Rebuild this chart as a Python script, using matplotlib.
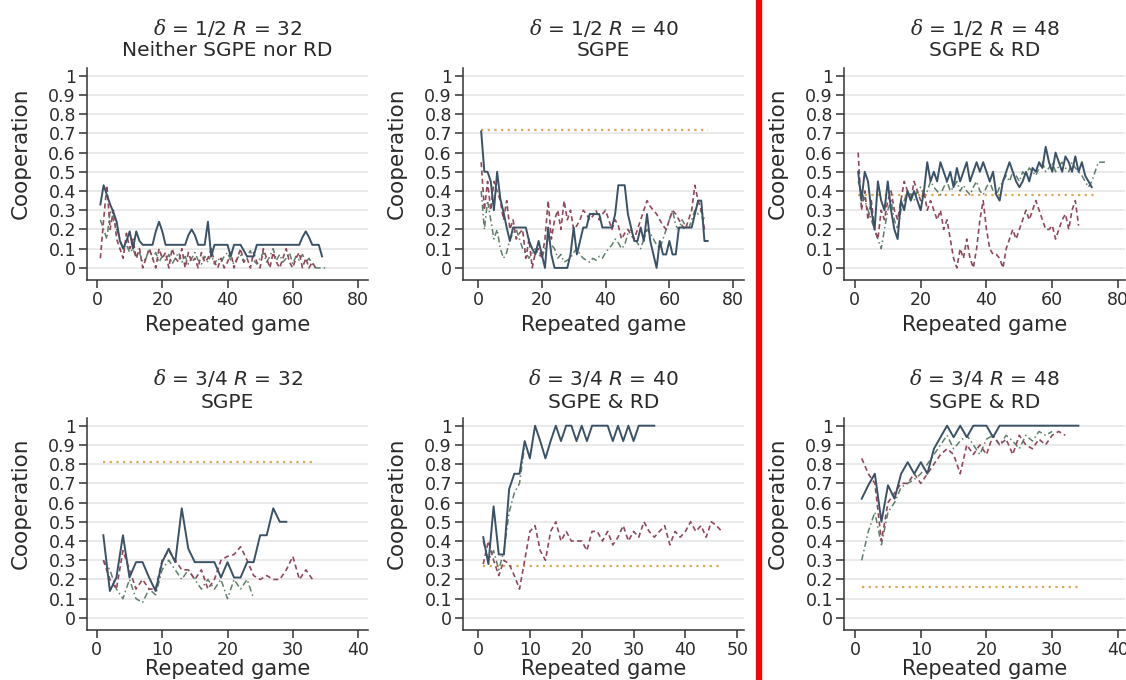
import numpy as np
import matplotlib
matplotlib.use('Agg')
import matplotlib.pyplot as plt
from matplotlib.lines import Line2D

# cooperation rate per repeated game (game 1, 2, 3, ...) for each treatment
# solid / dashed / dash-dot are the three sessions, dotted is the predicted level

# delta = 1/2, R = 32
p1_solid = [0.33, 0.43, 0.38, 0.33, 0.29, 0.24, 0.14, 0.10, 0.14, 0.19,
            0.10, 0.19, 0.14, 0.12, 0.12, 0.12, 0.12, 0.19, 0.24, 0.19,
            0.12, 0.12, 0.12, 0.12, 0.12, 0.12, 0.12, 0.17, 0.20, 0.17,
            0.12, 0.12, 0.12, 0.24, 0.06, 0.12, 0.12, 0.12, 0.12, 0.12,
            0.06, 0.12, 0.12, 0.12, 0.09, 0.06, 0.06, 0.06, 0.12, 0.12,
            0.12, 0.12, 0.12, 0.12, 0.12, 0.12, 0.12, 0.12, 0.12, 0.12,
            0.12, 0.12, 0.16, 0.19, 0.16, 0.12, 0.12, 0.12, 0.06]
p1_dash = [0.05, 0.25, 0.43, 0.20, 0.30, 0.15, 0.10, 0.05, 0.18, 0.10,
           0.15, 0.05, 0.10, 0.00, 0.05, 0.10, 0.05, 0.00, 0.10, 0.05,
           0.08, 0.00, 0.10, 0.05, 0.03, 0.10, 0.00, 0.08, 0.03, 0.05,
           0.00, 0.08, 0.03, 0.05, 0.10, 0.03, 0.00, 0.05, 0.00, 0.03,
           0.08, 0.00, 0.05, 0.10, 0.03, 0.05, 0.00, 0.08, 0.03, 0.00,
           0.10, 0.05, 0.00, 0.08, 0.03, 0.00, 0.05, 0.10, 0.03, 0.00,
           0.05, 0.08, 0.00, 0.05, 0.00, 0.03, 0.00]
p1_dashdot = [0.25, 0.20, 0.15, 0.30, 0.25, 0.20, 0.15, 0.10, 0.12, 0.08,
              0.10, 0.05, 0.08, 0.03, 0.05, 0.10, 0.05, 0.08, 0.03, 0.06,
              0.04, 0.07, 0.02, 0.05, 0.08, 0.03, 0.06, 0.02, 0.05, 0.08,
              0.04, 0.02, 0.06, 0.03, 0.07, 0.02, 0.05, 0.03, 0.06, 0.08,
              0.04, 0.02, 0.05, 0.07, 0.03, 0.06, 0.09, 0.04, 0.02, 0.05,
              0.08, 0.03, 0.06, 0.10, 0.04, 0.07, 0.03, 0.05, 0.08, 0.02,
              0.06, 0.04, 0.07, 0.03, 0.05, 0.02, 0.00, 0.00, 0.00, 0.00]

# delta = 1/2, R = 40
p2_solid = [0.71, 0.50, 0.50, 0.45, 0.30, 0.50, 0.36, 0.29, 0.21, 0.14,
            0.21, 0.21, 0.21, 0.21, 0.21, 0.14, 0.10, 0.07, 0.14, 0.07,
            0.00, 0.21, 0.07, 0.00, 0.00, 0.00, 0.00, 0.00, 0.07, 0.21,
            0.07, 0.14, 0.21, 0.21, 0.28, 0.28, 0.28, 0.28, 0.21, 0.21,
            0.21, 0.21, 0.28, 0.43, 0.43, 0.43, 0.28, 0.21, 0.14, 0.14,
            0.21, 0.14, 0.28, 0.14, 0.07, 0.00, 0.14, 0.07, 0.07, 0.14,
            0.07, 0.07, 0.21, 0.21, 0.21, 0.21, 0.21, 0.28, 0.35, 0.35,
            0.14, 0.14]
p2_dash = [0.55, 0.30, 0.45, 0.30, 0.45, 0.40, 0.35, 0.25, 0.35, 0.20,
           0.25, 0.15, 0.18, 0.20, 0.05, 0.15, 0.00, 0.08, 0.10, 0.05,
           0.15, 0.35, 0.15, 0.25, 0.30, 0.20, 0.35, 0.25, 0.30, 0.20,
           0.22, 0.25, 0.30, 0.28, 0.25, 0.27, 0.30, 0.25, 0.28, 0.30,
           0.25, 0.20, 0.25, 0.22, 0.15, 0.18, 0.20, 0.17, 0.15, 0.20,
           0.25, 0.30, 0.35, 0.32, 0.30, 0.28, 0.25, 0.22, 0.20, 0.25,
           0.30, 0.28, 0.25, 0.22, 0.20, 0.25, 0.30, 0.43, 0.35, 0.30,
           0.20]
p2_dashdot = [0.40, 0.20, 0.35, 0.25, 0.15, 0.20, 0.10, 0.05, 0.08, 0.15,
              0.18, 0.20, 0.15, 0.10, 0.08, 0.05, 0.08, 0.10, 0.07, 0.05,
              0.10, 0.15, 0.12, 0.10, 0.05, 0.07, 0.03, 0.04, 0.05, 0.08,
              0.10, 0.07, 0.05, 0.04, 0.03, 0.05, 0.04, 0.06, 0.05, 0.08,
              0.10, 0.12, 0.15, 0.13, 0.10, 0.12, 0.18, 0.20, 0.15, 0.13,
              0.10, 0.15, 0.20, 0.18, 0.15, 0.12, 0.10, 0.15, 0.20, 0.25,
              0.30, 0.22, 0.20, 0.25, 0.22, 0.20, 0.25, 0.30, 0.28, 0.30,
              0.25]
p2_pred, p2_games = 0.72, 72

# delta = 1/2, R = 48
p3_solid = [0.50, 0.35, 0.50, 0.45, 0.30, 0.20, 0.45, 0.35, 0.30, 0.45,
            0.30, 0.20, 0.15, 0.35, 0.30, 0.40, 0.35, 0.40, 0.35, 0.30,
            0.40, 0.55, 0.45, 0.50, 0.45, 0.55, 0.50, 0.45, 0.50, 0.42,
            0.52, 0.45, 0.50, 0.55, 0.45, 0.50, 0.55, 0.50, 0.55, 0.50,
            0.45, 0.50, 0.38, 0.35, 0.45, 0.50, 0.55, 0.50, 0.45, 0.42,
            0.45, 0.50, 0.45, 0.52, 0.50, 0.55, 0.52, 0.63, 0.55, 0.50,
            0.60, 0.55, 0.50, 0.58, 0.55, 0.50, 0.58, 0.50, 0.55, 0.48,
            0.45, 0.42]
p3_dash = [0.60, 0.30, 0.40, 0.25, 0.35, 0.20, 0.15, 0.30, 0.25, 0.35,
           0.40, 0.30, 0.25, 0.35, 0.45, 0.40, 0.35, 0.45, 0.40, 0.35,
           0.40, 0.30, 0.35, 0.30, 0.25, 0.30, 0.20, 0.25, 0.15, 0.05,
           0.00, 0.10, 0.05, 0.15, 0.05, 0.00, 0.10, 0.25, 0.35, 0.20,
           0.10, 0.07, 0.07, 0.05, 0.00, 0.10, 0.15, 0.20, 0.15, 0.20,
           0.25, 0.30, 0.25, 0.30, 0.35, 0.30, 0.25, 0.20, 0.20, 0.22,
           0.15, 0.20, 0.25, 0.28, 0.20, 0.30, 0.35, 0.22]
p3_dashdot = [0.45, 0.40, 0.35, 0.30, 0.25, 0.20, 0.15, 0.10, 0.20, 0.30,
              0.35, 0.25, 0.20, 0.30, 0.35, 0.40, 0.38, 0.35, 0.40, 0.42,
              0.38, 0.40, 0.45, 0.42, 0.40, 0.38, 0.42, 0.45, 0.40, 0.42,
              0.45, 0.40, 0.43, 0.40, 0.38, 0.42, 0.45, 0.40, 0.38, 0.42,
              0.45, 0.40, 0.38, 0.42, 0.45, 0.48, 0.45, 0.50, 0.48, 0.45,
              0.50, 0.48, 0.52, 0.50, 0.48, 0.52, 0.55, 0.50, 0.52, 0.55,
              0.50, 0.53, 0.55, 0.52, 0.50, 0.55, 0.52, 0.50, 0.48, 0.45,
              0.42, 0.45, 0.50, 0.55, 0.55, 0.55]
p3_pred, p3_games = 0.38, 74

# delta = 3/4, R = 32
p4_solid = [0.43, 0.14, 0.21, 0.43, 0.21, 0.29, 0.29, 0.21, 0.14, 0.29,
            0.36, 0.29, 0.57, 0.36, 0.29, 0.29, 0.29, 0.29, 0.21, 0.29,
            0.21, 0.21, 0.29, 0.29, 0.43, 0.43, 0.57, 0.50, 0.50]
p4_dash = [0.30, 0.20, 0.15, 0.35, 0.25, 0.15, 0.20, 0.15, 0.15, 0.30,
           0.35, 0.30, 0.25, 0.25, 0.20, 0.25, 0.15, 0.20, 0.30, 0.32,
           0.33, 0.37, 0.30, 0.22, 0.20, 0.22, 0.20, 0.20, 0.25, 0.32,
           0.20, 0.25, 0.20]
p4_dashdot = [0.30, 0.25, 0.15, 0.10, 0.20, 0.10, 0.08, 0.15, 0.12, 0.25,
              0.30, 0.25, 0.20, 0.25, 0.20, 0.15, 0.20, 0.15, 0.20, 0.10,
              0.20, 0.15, 0.20, 0.10]
p4_pred, p4_games = 0.81, 33

# delta = 3/4, R = 40
p5_solid = [0.42, 0.28, 0.58, 0.33, 0.33, 0.67, 0.75, 0.75, 0.92, 0.83,
            1.00, 0.92, 0.83, 0.92, 1.00, 0.92, 1.00, 1.00, 0.92, 1.00,
            0.92, 1.00, 1.00, 1.00, 1.00, 0.92, 1.00, 0.92, 1.00, 0.92,
            1.00, 1.00, 1.00, 1.00]
p5_dash = [0.28, 0.40, 0.30, 0.22, 0.30, 0.28, 0.22, 0.15, 0.30, 0.45,
           0.48, 0.35, 0.30, 0.45, 0.50, 0.40, 0.45, 0.40, 0.40, 0.40,
           0.35, 0.45, 0.45, 0.40, 0.45, 0.38, 0.42, 0.48, 0.40, 0.45,
           0.42, 0.50, 0.45, 0.42, 0.45, 0.48, 0.38, 0.45, 0.42, 0.45,
           0.50, 0.45, 0.48, 0.42, 0.50, 0.48, 0.45]
p5_dashdot = [0.40, 0.30, 0.35, 0.25, 0.35, 0.55, 0.65, 0.70, 0.90]
p5_pred, p5_games = 0.27, 47

# delta = 3/4, R = 48
p6_solid = [0.62, 0.69, 0.75, 0.50, 0.69, 0.62, 0.75, 0.81, 0.75, 0.81,
            0.75, 0.88, 0.94, 1.00, 0.94, 1.00, 0.94, 1.00, 1.00, 1.00,
            0.94, 1.00, 1.00, 1.00, 1.00, 1.00, 1.00, 1.00, 1.00, 1.00,
            1.00, 1.00, 1.00, 1.00]
p6_dash = [0.83, 0.75, 0.70, 0.40, 0.60, 0.65, 0.70, 0.70, 0.75, 0.70,
           0.75, 0.80, 0.85, 0.88, 0.85, 0.75, 0.90, 0.85, 0.90, 0.85,
           0.95, 0.90, 0.93, 0.85, 0.95, 0.90, 0.88, 0.93, 0.90, 0.95,
           0.97, 0.95]
p6_dashdot = [0.30, 0.45, 0.55, 0.38, 0.55, 0.60, 0.68, 0.70, 0.72, 0.75,
              0.80, 0.85, 0.90, 0.95, 0.88, 0.92, 0.95, 0.90, 0.85, 0.93,
              0.95, 0.90, 0.95, 0.92, 0.88, 0.95, 0.92, 0.97, 0.95, 0.97]
p6_pred, p6_games = 0.16, 34

titles = [(r'$\delta$ = 1/2 $\mathsf{R}$ = 32', 'Neither SGPE nor RD'),
          (r'$\delta$ = 1/2 $\mathsf{R}$ = 40', 'SGPE'),
          (r'$\delta$ = 1/2 $\mathsf{R}$ = 48', 'SGPE & RD'),
          (r'$\delta$ = 3/4 $\mathsf{R}$ = 32', 'SGPE'),
          (r'$\delta$ = 3/4 $\mathsf{R}$ = 40', 'SGPE & RD'),
          (r'$\delta$ = 3/4 $\mathsf{R}$ = 48', 'SGPE & RD')]
xtick_sets = [[0, 20, 40, 60, 80]] * 3 + [[0, 10, 20, 30, 40],
                                         [0, 10, 20, 30, 40, 50],
                                         [0, 10, 20, 30, 40]]
yticks = [0, 0.1, 0.2, 0.3, 0.4, 0.5, 0.6, 0.7, 0.8, 0.9, 1]

plt.rcParams['font.family'] = 'DejaVu Sans'
plt.rcParams['mathtext.fontset'] = 'custom'
plt.rcParams['mathtext.rm'] = 'DejaVu Serif'
plt.rcParams['mathtext.it'] = 'DejaVu Serif:italic'
plt.rcParams['mathtext.sf'] = 'DejaVu Sans:italic'

TXT = '#2a2a2a'
C_SOLID, C_DASH, C_DDOT, C_PRED = '#3b5266', '#8e4a5c', '#5e7f6a', '#d9a855'

W, H = 1126, 680
fig = plt.figure(figsize=(W / 100, H / 100), dpi=100)
fig.patch.set_facecolor('white')

# panel frames in pixels: left, top, xlim
AX_W, AX_H = 281, 212
frames = [(87, 68, (-3.1, 83.1)), (463, 68, (-4.7, 83.4)), (844, 68, (-3.3, 82.1)),
          (87, 418, (-1.5, 41.5)), (463, 418, (-2.9, 51.3)), (844, 418, (-1.7, 41.1))]

series = [(p1_solid, p1_dash, p1_dashdot, None, None),
          (p2_solid, p2_dash, p2_dashdot, p2_pred, p2_games),
          (p3_solid, p3_dash, p3_dashdot, p3_pred, p3_games),
          (p4_solid, p4_dash, p4_dashdot, p4_pred, p4_games),
          (p5_solid, p5_dash, p5_dashdot, p5_pred, p5_games),
          (p6_solid, p6_dash, p6_dashdot, p6_pred, p6_games)]

for i, ((left, top, xl), (s, d, dd, pred, ng)) in enumerate(zip(frames, series)):
    ax = fig.add_axes([left / W, (H - top - AX_H) / H, AX_W / W, AX_H / H])
    ax.set_xlim(*xl)
    ax.set_ylim(-0.063, 1.04)

    for v in yticks:
        ax.axhline(v, color='#e8e8e8', lw=1.3, zorder=0)

    if pred is not None:
        xp = np.arange(1, ng + 1)
        ax.plot(xp, np.full(ng, pred), color=C_PRED, lw=1.6, dashes=(1, 2), zorder=1)
    ax.plot(np.arange(1, len(dd) + 1), dd, color=C_DDOT, lw=1.1, dashes=(4, 2, 1, 2), zorder=2)
    ax.plot(np.arange(1, len(d) + 1), d, color=C_DASH, lw=1.2, dashes=(3, 2), zorder=3)
    ax.plot(np.arange(1, len(s) + 1), s, color=C_SOLID, lw=1.4, zorder=4)

    for sp in ['top', 'right']:
        ax.spines[sp].set_visible(False)
    for sp in ['left', 'bottom']:
        ax.spines[sp].set_color('#333333')
        ax.spines[sp].set_linewidth(1.1)

    ax.set_yticks(yticks)
    ax.set_yticklabels([f'{v:g}' for v in yticks])
    ax.set_xticks(xtick_sets[i])
    ax.tick_params(direction='out', length=6, width=1.1, color='#333333',
                   labelsize=12.5, labelcolor=TXT, pad=2)

    ax.set_ylabel('Cooperation', fontsize=15.5, color=TXT)
    ax.yaxis.set_label_coords(-0.20, 0.60)
    ax.set_xlabel('Repeated game', fontsize=15, color=TXT)
    ax.xaxis.set_label_coords(0.5, -0.165 if i < 3 else -0.135)

    cx = (left + AX_W / 2) / W
    y1, y2 = (28, 50) if i < 3 else (378, 403)
    fig.text(cx, 1 - y1 / H, titles[i][0], ha='center', va='center', fontsize=14.5, color=TXT)
    fig.text(cx, 1 - y2 / H, titles[i][1], ha='center', va='center', fontsize=14.5, color=TXT)

# red divider between the R = 40 and R = 48 columns
fig.add_artist(Line2D([758.5 / W, 758.5 / W], [0, 1], color='#ff0000', lw=4.5))

fig.savefig('out.png', dpi=100, facecolor='white')
